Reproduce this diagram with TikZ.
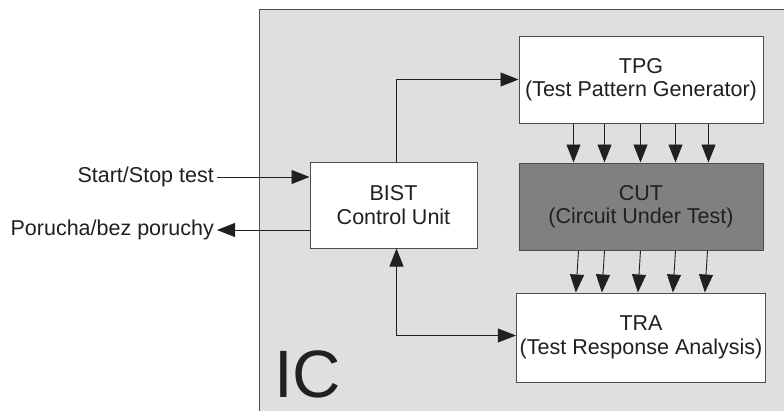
\documentclass[tikz,border=0pt]{standalone}
\usepackage{fontspec}
\setmainfont{Liberation Sans}
\usetikzlibrary{arrows.meta, calc, positioning}
\definecolor{icgray}{RGB}{223, 223, 223}
\definecolor{cutgray}{RGB}{128, 128, 128}
\definecolor{linedark}{RGB}{35, 31, 32}

\tikzset{
    block/.style={draw=linedark!80, line width=1pt, fill=white, align=center,
        text=linedark, font=\fontsize{21.5}{23.5}\selectfont},
    lbl/.style={text=linedark, font=\fontsize{21.5}{23.5}\selectfont, inner sep=3pt},
    conn/.style={draw=linedark, line width=0.9pt},
}

\begin{document}
\begin{tikzpicture}[x=1pt, y=-1pt, >={Triangle[length=18pt, width=14pt]}]
\useasboundingbox (0,0) rectangle (784,410);
\clip (0,0) rectangle (784,410);

% IC
\draw[draw=linedark!80, line width=1pt, fill=icgray] (259,9) rectangle (800,430);
\node[anchor=base west, inner sep=0, text=linedark, font=\fontsize{67}{67}\selectfont] (ic) at (274,397) {IC};

% Blocks
\node[block, minimum width=244pt, minimum height=87pt] (tpg) at (641,79.5) {TPG\\(Test Pattern Generator)};
\node[block, fill=cutgray, minimum width=244pt, minimum height=87pt] (cut) at (641,206.5) {CUT\\(Circuit Under Test)};
\node[block, minimum width=244pt, minimum height=89pt] (tra) at (641,337.5) {TRA\\(Test Response Analysis)};
\node[block, minimum width=167pt, minimum height=86pt] (bist) at (393.5,205) {BIST\\Control Unit};

% Outside signals
\node[lbl, anchor=east] (start) at (217,177) {Start/Stop test};
\node[lbl, anchor=east] (fault) at (217,230) {Porucha/bez poruchy};
\draw[conn, ->] (start.east) -- (start.east -| bist.west);
\draw[conn, ->] (fault.east -| bist.west) -- (fault.east);

% Control
\draw[conn, ->] ([xshift=3pt]bist.north) |- (tpg.west);
\draw[conn, <->] ([xshift=3pt]bist.south) |- ([yshift=2pt]tra.west);

% Buses
\foreach \d in {55, 86, 122, 157, 190}
    \draw[conn, ->] ([xshift=\d pt]tpg.south west) -- ([xshift=\d pt]cut.north west);
\foreach \d in {60, 86, 122, 157, 189}
    \draw[conn, ->] ([xshift=\d pt]cut.south west) -- ([xshift=\d pt]tra.north west);
\end{tikzpicture}
\end{document}
